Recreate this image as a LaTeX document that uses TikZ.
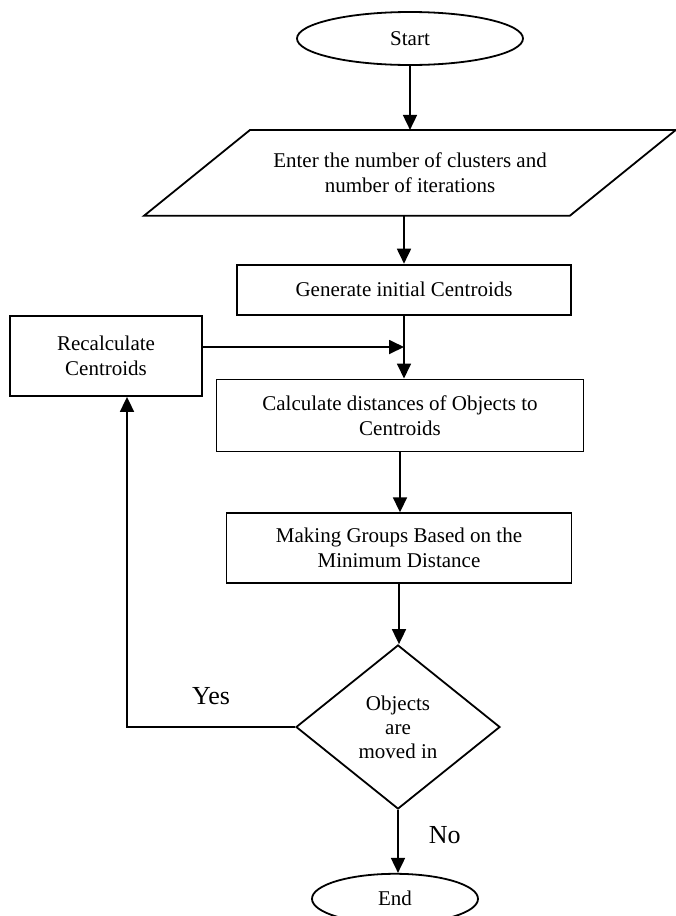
\documentclass[tikz,border=0pt]{standalone}
\usepackage{fontspec}
\setmainfont{Liberation Serif}
\usetikzlibrary{positioning,shapes.geometric,arrows.meta,calc}

\begin{document}
\begin{tikzpicture}[
    x=1pt, y=-1pt,
    box/.style={draw, line width=1.8pt, align=center, inner sep=0pt, font=\fontsize{21}{25}\selectfont},
    term/.style={box, ellipse},
    cond/.style={box, diamond, font=\fontsize{21}{24}\selectfont},
    lbl/.style={inner sep=0pt, font=\fontsize{26}{30}\selectfont},
    arr/.style={-{Triangle[length=15pt,width=14pt]}, line width=1.8pt}
]
\useasboundingbox (0,0) rectangle (676,916);
\node[term, minimum width=226pt, minimum height=53pt] (start) at (410,38.5) {Start};
\node[box, draw=none, minimum width=424pt, minimum height=84pt, below=64pt of start] (input) {Enter the number of clusters and\\number of iterations};
\draw[line width=1.8pt] ([xshift=-53pt]input.south west) -- ([xshift=53pt]input.north west) -- ([xshift=53pt]input.north east) -- ([xshift=-53pt]input.south east) -- cycle;
\node[box, minimum width=334pt, minimum height=50pt, below=48pt of input, xshift=-6pt] (gen) {Generate initial Centroids};
\node[box, minimum width=367pt, minimum height=72pt, below=63pt of gen, xshift=-4pt] (calc) {Calculate distances of Objects to\\Centroids};
\node[box, minimum width=192pt, minimum height=80pt] (recalc) at (106,356) {Recalculate\\Centroids};
\node[box, minimum width=345pt, minimum height=70pt, below=60pt of calc, xshift=-1pt] (group) {Making Groups Based on the\\Minimum Distance};
\node[cond, minimum width=204pt, minimum height=164pt, below=60pt of group, xshift=-1pt] (moved) {Objects\\are\\moved in};
\node[term, minimum width=166pt, minimum height=50pt, below=63pt of moved, xshift=-3pt] (end) {End};
\coordinate (join) at ($(gen.south)!0.5!(gen.south |- calc.north)$);
\draw[arr] (start) -- (input);
\draw[arr] (input.south -| gen.north) -- (gen.north);
\draw[arr] (gen.south) -- (gen.south |- calc.north);
\draw[arr] (recalc.east |- join) -- (join);
\draw[arr] (calc.south) -- (calc.south |- group.north);
\draw[arr] (group.south) -- (group.south |- moved.north);
\draw[arr] (moved.west) -| ([xshift=21pt]recalc.south) node[lbl, pos=0.25, above=21pt] (yes) {Yes};
\draw[arr] (moved.south) -- (moved.south |- end.north) node[lbl, midway, right=30pt, yshift=6pt] (no) {No};
\end{tikzpicture}
\end{document}
